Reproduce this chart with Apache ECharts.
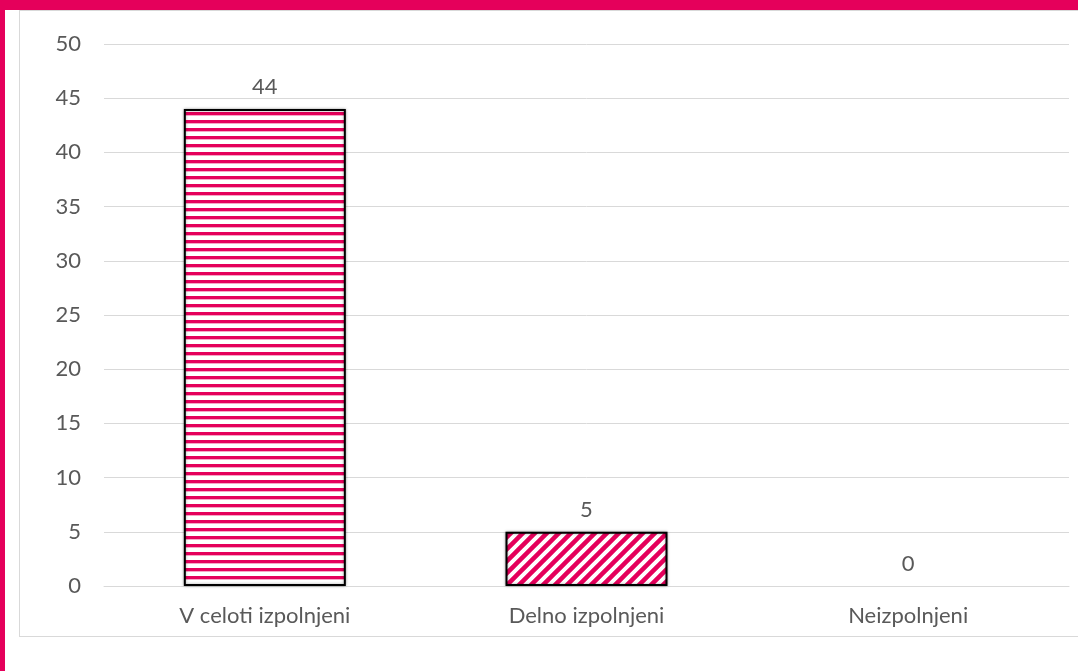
<!DOCTYPE html>
<html>
<head>
<meta charset="utf-8">
<script src="https://cdn.jsdelivr.net/npm/echarts@6/dist/echarts.min.js"></script>
<style>
  html, body { margin: 0; padding: 0; background: #fff; }
  #wrap { position: relative; width: 1078px; height: 671px; overflow: hidden; }
  #frame { position: absolute; left: 19px; top: 10px; width: 1080px; height: 627px;
           box-sizing: border-box; border: 1px solid #d9d9d9; }
  #topband { position: absolute; left: 0; top: 0; width: 1078px; height: 10px; background: #e5005b; }
  #leftband { position: absolute; left: 0; top: 0; width: 5px; height: 671px; background: #e5005b; }
  #main { position: absolute; left: 0; top: 0; width: 1078px; height: 671px; }
</style>
</head>
<body>
<div id="wrap">
  <div id="frame"></div>
  <div id="main"></div>
  <div id="topband"></div>
  <div id="leftband"></div>
</div>
<script>
var categories = ['V celoti izpolnjeni', 'Delno izpolnjeni', 'Neizpolnjeni'];
var values = [44, 5, 0];
var yTicks = { min: 0, max: 50, interval: 5 };

var pink = '#e5005b';
var textColor = '#595959';
var font = 'Lato, "Open Sans", sans-serif';
var fontSize = 22;

// vodoravne črte
function hStripes() {
    var c = document.createElement('canvas');
    c.width = 8; c.height = 8;
    var ctx = c.getContext('2d');
    ctx.fillStyle = '#fff';
    ctx.fillRect(0, 0, 8, 8);
    ctx.fillStyle = pink;
    ctx.fillRect(0, 0, 8, 3);
    ctx.fillStyle = 'rgba(229,0,91,0.35)';
    ctx.fillRect(0, 3, 8, 1);
    return c;
}

// poševne črte
function dStripes() {
    var s = 12;
    var c = document.createElement('canvas');
    c.width = s; c.height = s;
    var ctx = c.getContext('2d');
    ctx.fillStyle = '#fff';
    ctx.fillRect(0, 0, s, s);
    ctx.strokeStyle = pink;
    ctx.lineWidth = 4.5;
    ctx.beginPath();
    ctx.moveTo(-s, s); ctx.lineTo(s, -s);
    ctx.moveTo(-1, s + 1); ctx.lineTo(s + 1, -1);
    ctx.moveTo(0, s * 2); ctx.lineTo(s * 2, 0);
    ctx.stroke();
    return c;
}

var patterns = [hStripes(), dStripes(), hStripes()];

var barData = values.map(function (v, i) {
    return {
        value: v,
        itemStyle: {
            color: { image: patterns[i], repeat: 'repeat' },
            borderColor: '#000',
            borderWidth: v === 0 ? 0 : 2,
            shadowBlur: v === 0 ? 0 : 3,
            shadowColor: 'rgba(0,0,0,0.35)'
        }
    };
});

var myChart = echarts.init(document.getElementById('main'));
myChart.setOption({
    animation: false,
    backgroundColor: 'transparent',
    grid: { left: 104, right: 9, top: 44, bottom: 85, containLabel: false },
    xAxis: {
        type: 'category',
        data: categories,
        axisLine: { lineStyle: { color: '#d9d9d9', width: 1 } },
        axisTick: { show: false },
        axisLabel: { color: textColor, fontSize: fontSize, fontFamily: font, margin: 19 }
    },
    yAxis: {
        type: 'value',
        min: yTicks.min,
        max: yTicks.max,
        interval: yTicks.interval,
        axisLine: { show: false },
        axisTick: { show: false },
        axisLabel: { color: textColor, fontSize: fontSize, fontFamily: font, margin: 23 },
        splitLine: { lineStyle: { color: '#d9d9d9', width: 1 } }
    },
    series: [{
        type: 'bar',
        data: barData,
        barWidth: 162,
        label: {
            show: true,
            position: 'top',
            distance: 11,
            color: textColor,
            fontSize: fontSize,
            fontFamily: font
        }
    }]
});
</script>
</body>
</html>
